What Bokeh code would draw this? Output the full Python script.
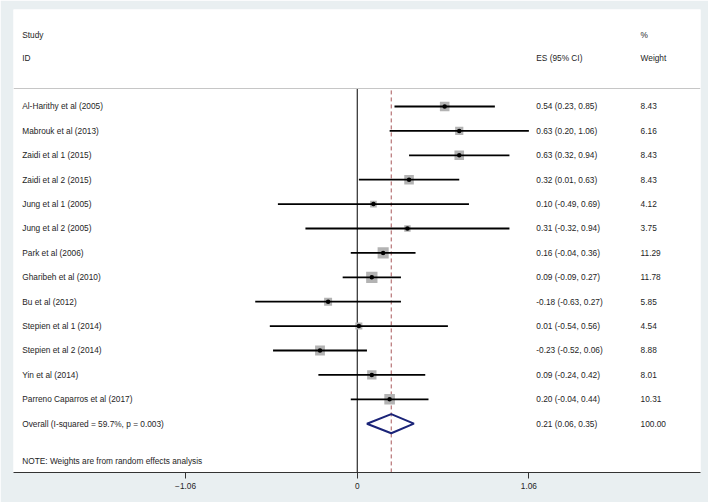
from bokeh.plotting import figure
from bokeh.models import ColumnDataSource, Range1d, FixedTicker, Span
from bokeh.core.properties import value
from bokeh.embed import file_html
from bokeh.resources import INLINE

# ---------------- data ----------------
studies = [
    "Al-Harithy et al (2005)",
    "Mabrouk et al (2013)",
    "Zaidi et al 1 (2015)",
    "Zaidi et al 2 (2015)",
    "Jung et al 1 (2005)",
    "Jung et al 2 (2005)",
    "Park et al (2006)",
    "Gharibeh et al (2010)",
    "Bu et al (2012)",
    "Stepien et al 1 (2014)",
    "Stepien et al 2 (2014)",
    "Yin et al (2014)",
    "Parreno Caparros et al (2017)",
]
es = [0.54, 0.63, 0.63, 0.32, 0.10, 0.31, 0.16, 0.09, -0.18, 0.01, -0.23, 0.09, 0.20]
lo = [0.23, 0.20, 0.32, 0.01, -0.49, -0.32, -0.04, -0.09, -0.63, -0.54, -0.52, -0.24, -0.04]
hi = [0.85, 1.06, 0.94, 0.63, 0.69, 0.94, 0.36, 0.27, 0.27, 0.56, 0.06, 0.42, 0.44]
weights = [8.43, 6.16, 8.43, 8.43, 4.12, 3.75, 11.29, 11.78, 5.85, 4.54, 8.88, 8.01, 10.31]

overall_label = "Overall  (I-squared = 59.7%, p = 0.003)"
overall_es = 0.21
overall_lo = 0.06
overall_hi = 0.35
overall_w = 100.00

xticks = [-1.06, 0, 1.06]
header_left = ["Study", "ID"]
header_es = "ES (95% CI)"
header_w = ["%", "Weight"]
note = "NOTE: Weights are from random effects analysis"

# ---------------- style ----------------
BG = "#e9eff1"
FONT = value("Liberation Sans")
FS = value("8.3px")
TXT = "#1e1e1e"
COL_STUDY = -2.069
COL_ES = 1.106
COL_W = 1.750

rows = list(range(1, len(studies) + 1))
overall_row = len(studies) + 1
HEAD_Y1, HEAD_Y2, HEAD_LINE = -1.95, -0.97, 0.262
NOTE_Y = 15.51
Y_BOTTOM = 16.0

p = figure(width=708, height=502, output_backend="svg", toolbar_location=None,
           x_range=Range1d(-2.123, 2.120), y_range=Range1d(Y_BOTTOM, -2.975),
           y_axis_location=None,
           min_border_left=13, min_border_right=8, min_border_top=9, min_border_bottom=30,
           background_fill_color="white", border_fill_color=BG, outline_line_color=None)
p.grid.visible = False

# header
p.add_layout(Span(location=HEAD_LINE, dimension="width", line_color="#c6c6c6", line_width=1))
p.text(x=[COL_STUDY, COL_STUDY, COL_ES, COL_W, COL_W],
       y=[HEAD_Y1, HEAD_Y2, HEAD_Y2, HEAD_Y1, HEAD_Y2],
       text=header_left + [header_es] + header_w,
       text_font=FONT, text_font_size=FS, text_color=TXT, text_baseline="middle")

# reference lines
p.segment(x0=[0], y0=[HEAD_LINE], x1=[0], y1=[Y_BOTTOM], line_color="black", line_width=1)
p.segment(x0=[overall_es], y0=[HEAD_LINE + 0.08], x1=[overall_es], y1=[Y_BOTTOM],
          line_color="#a8585a", line_width=1, line_dash="4 3")

src = ColumnDataSource(dict(
    y=rows, es=es, lo=lo, hi=hi, w=weights,
    sq=[3.3 * w ** 0.5 for w in weights],
    name=studies,
    est=[f"{e:.2f} ({a:.2f}, {b:.2f})" for e, a, b in zip(es, lo, hi)],
    wt=[f"{w:.2f}" for w in weights],
))

p.scatter(x="es", y="y", size="sq", marker="square", source=src,
          fill_color="#b3b3b3", line_color=None)
p.segment(x0="lo", y0="y", x1="hi", y1="y", source=src, line_color="black", line_width=1.8)
p.scatter(x="es", y="y", size=4.5, marker="circle", source=src,
          fill_color="black", line_color=None)

# overall diamond
p.patch(x=[overall_lo, overall_es, overall_hi, overall_es],
        y=[overall_row, overall_row - 0.39, overall_row, overall_row + 0.39],
        fill_color=None, line_color="#1b2478", line_width=2)

# texts
p.text(x=COL_STUDY, y="y", text="name", source=src,
       text_font=FONT, text_font_size=FS, text_color=TXT, text_baseline="middle")
p.text(x=COL_ES, y="y", text="est", source=src,
       text_font=FONT, text_font_size=FS, text_color=TXT, text_baseline="middle")
p.text(x=COL_W, y="y", text="wt", source=src,
       text_font=FONT, text_font_size=FS, text_color=TXT, text_baseline="middle")
p.text(x=[COL_STUDY, COL_ES, COL_W, COL_STUDY],
       y=[overall_row, overall_row, overall_row, NOTE_Y],
       text=[overall_label,
             f"{overall_es:.2f} ({overall_lo:.2f}, {overall_hi:.2f})",
             f"{overall_w:.2f}", note],
       text_font=FONT, text_font_size=FS, text_color=TXT, text_baseline="middle")

# axis
ax = p.xaxis[0]
ax.ticker = FixedTicker(ticks=xticks)
ax.axis_line_color = "#333333"
ax.major_tick_line_color = "#333333"
ax.minor_tick_line_color = None
ax.major_tick_out = 6
ax.major_tick_in = 0
ax.major_label_text_font = "Liberation Sans"
ax.major_label_text_font_size = "8.3px"
ax.major_label_text_color = TXT
ax.major_label_standoff = 4

open("out.html", "w").write(file_html(p, INLINE))
